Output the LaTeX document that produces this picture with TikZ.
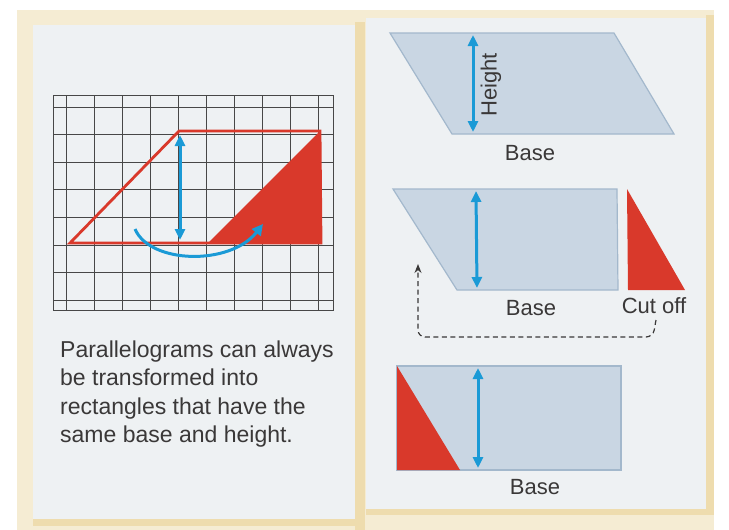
\documentclass[tikz,border=0pt]{standalone}
\usepackage{fontspec}
\setmainfont{Liberation Sans}
\usetikzlibrary{arrows.meta}
\definecolor{beige}{HTML}{F5ECD3}
\definecolor{beigedark}{HTML}{EEDCAE}
\definecolor{panel}{HTML}{EEF1F3}
\definecolor{shapefill}{HTML}{C9D6E3}
\definecolor{shapeedge}{HTML}{A3B8CC}
\definecolor{cyanarrow}{HTML}{1A9AD6}
\definecolor{redfill}{HTML}{D9392B}
\definecolor{gridline}{HTML}{474747}
\definecolor{textgray}{HTML}{3A3838}
\begin{document}
\begin{tikzpicture}[x=1pt,y=-1pt,
  maintext/.style={font=\fontsize{23}{28}\selectfont, text=textgray, inner sep=0pt},
  label/.style={font=\fontsize{22}{26}\selectfont, text=textgray, inner sep=0pt},
  lightshape/.style={fill=shapefill, draw=shapeedge, line width=1.2pt},
  redshape/.style={fill=redfill, draw=none},
  heightarrow/.style={draw=cyanarrow, line width=3pt, {Triangle[length=11pt,width=10pt]}-{Triangle[length=11pt,width=10pt]}},
  gridstyle/.style={draw=gridline, line width=1pt}]
\useasboundingbox (0,0) rectangle (729,530);
\fill[white] (0,0) rectangle (729,530);
% page and panels
\fill[beige] (17,10) rectangle (714,530);
\fill[beigedark] (355,22) rectangle (365,530);
\fill[beigedark] (706,15) rectangle (714,515);
\fill[beigedark] (366,509) rectangle (714,515);
\fill[beigedark] (33,519) rectangle (355,526);
\fill[panel] (33,25) rectangle (355,519);
\fill[panel] (366,18) rectangle (706,509);

% grid
\draw[gridstyle] (53,95) rectangle (333,310);
\foreach \gx in {0,...,9} {
  \draw[gridstyle] ({66.7+28*\gx},95) -- ({66.7+28*\gx},310);
}
\foreach \gy in {0,...,7} {
  \draw[gridstyle] (53,{107+27.6*\gy}) -- (333,{107+27.6*\gy});
}
% parallelogram on grid
\coordinate (pbl) at (70,243);
\coordinate (ptl) at (179,131);
\coordinate (ptr) at (320,131);
\coordinate (pbr) at (321,243);
\coordinate (tbl) at (208,243);
\fill[redfill] (tbl) -- (ptr) -- (pbr) -- cycle;
\draw[redfill, line width=2.8pt, line join=miter] (pbl) -- (ptl) -- (ptr) -- (pbr) -- cycle;
\coordinate (ha) at (180,135);
\coordinate (hb) at (180,240);
\draw[heightarrow] (ha) -- (hb);
\coordinate (ca) at (135,229);
\coordinate (cb) at (263,224);
\draw[draw=cyanarrow, line width=3pt, -{Triangle[length=11pt,width=11pt]}] (ca) .. controls (150,264) and (230,266) .. (cb);

% main text
\node[maintext, anchor=base west] (t1) at (60,357) {Parallelograms can always};
\node[maintext, anchor=base west] (t2) at (60,385.5) {be transformed into};
\node[maintext, anchor=base west] (t3) at (60,414) {rectangles that have the};
\node[maintext, anchor=base west] (t4) at (60,442.5) {same base and height.};

% shape 1: parallelogram
\draw[lightshape] (390,33) -- (614,33) -- (674,134) -- (452,134) -- cycle;
\coordinate (h1a) at (473,35);
\coordinate (h1b) at (473,132);
\draw[heightarrow] (h1a) -- (h1b);
\node[label, rotate=90] (height) at (491,85) {Height};
\node[label] (base1) at (530,153) {Base};

% shape 2: trapezoid + cut off triangle
\draw[lightshape] (393,189) -- (617,189) -- (618,290) -- (457,290) -- cycle;
\coordinate (h2a) at (476,191);
\coordinate (h2b) at (477,288);
\draw[heightarrow] (h2a) -- (h2b);
\fill[redfill] (627,189) -- (628,290) -- (685,290) -- cycle;
\node[label] (base2) at (531,308) {Base};
\node[label] (cutoff) at (654,306) {Cut off};
\coordinate (d1) at (656,320);
\coordinate (d2) at (418,264);
\draw[draw=textgray, line width=1.2pt, dashed, dash pattern=on 5pt off 3.5pt, rounded corners=7pt, -{Stealth[length=9pt,width=7pt]}]
  (d1) -- (653,337) -- (418,337) -- (d2);

% shape 3: rectangle with moved triangle
\draw[lightshape] (397,366) rectangle (621,470);
\fill[redfill] (397,366) -- (397,470) -- (460,470) -- cycle;
\coordinate (h3a) at (478,368);
\coordinate (h3b) at (478,468);
\draw[heightarrow] (h3a) -- (h3b);
\node[label] (base3) at (535,487) {Base};
\end{tikzpicture}
\end{document}
